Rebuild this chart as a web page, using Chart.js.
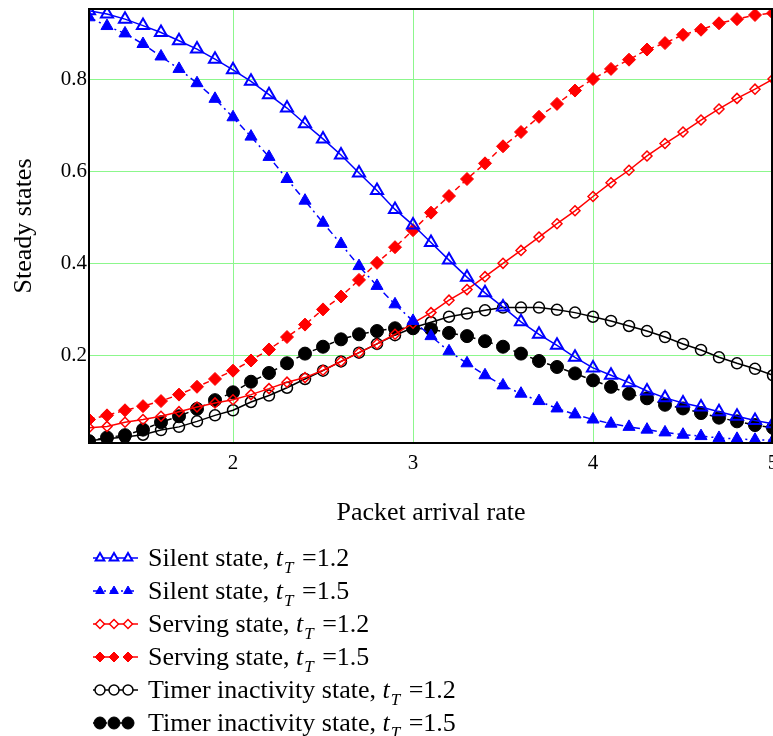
<!DOCTYPE html>
<html><head><meta charset="utf-8">
<script src="https://cdn.jsdelivr.net/npm/chart.js@4/dist/chart.umd.min.js"></script>
<style>html,body{margin:0;padding:0;background:#fff;overflow:hidden}#wrap{width:773px;height:736px;position:relative;overflow:hidden}canvas{display:block}</style>
</head><body><div id="wrap"><canvas id="c" width="782" height="736"></canvas></div>
<script>
const xValues = [1.2,1.3,1.4,1.5,1.6,1.7,1.8,1.9,2.0,2.1,2.2,2.3,2.4,2.5,2.6,2.7,2.8,2.9,3.0,3.1,3.2,3.3,3.4,3.5,3.6,3.7,3.8,3.9,4.0,4.1,4.2,4.3,4.4,4.5,4.6,4.7,4.8,4.9,5.0];
const silent12 = [0.948,0.941,0.930,0.916,0.901,0.883,0.865,0.843,0.820,0.795,0.766,0.737,0.703,0.670,0.635,0.596,0.558,0.517,0.483,0.445,0.407,0.370,0.336,0.305,0.273,0.246,0.222,0.196,0.173,0.157,0.141,0.123,0.108,0.097,0.088,0.078,0.068,0.059,0.052];
const silent15 = [0.934,0.915,0.899,0.876,0.849,0.822,0.791,0.757,0.717,0.675,0.631,0.583,0.536,0.488,0.442,0.394,0.351,0.311,0.275,0.242,0.209,0.183,0.157,0.135,0.117,0.101,0.085,0.072,0.061,0.052,0.045,0.039,0.033,0.028,0.025,0.021,0.019,0.017,0.016];
const serving12 = [0.043,0.046,0.055,0.061,0.068,0.078,0.088,0.097,0.104,0.115,0.128,0.142,0.152,0.168,0.187,0.206,0.225,0.246,0.270,0.293,0.320,0.343,0.371,0.400,0.428,0.457,0.486,0.514,0.545,0.575,0.602,0.633,0.660,0.685,0.711,0.735,0.758,0.778,0.800];
const serving15 = [0.061,0.070,0.081,0.090,0.101,0.115,0.132,0.149,0.167,0.189,0.213,0.240,0.267,0.300,0.328,0.364,0.401,0.435,0.472,0.510,0.546,0.583,0.617,0.654,0.685,0.718,0.746,0.775,0.800,0.822,0.842,0.864,0.878,0.896,0.907,0.921,0.930,0.939,0.943];
const timer12 = [0.015,0.019,0.023,0.028,0.038,0.045,0.057,0.070,0.081,0.099,0.113,0.130,0.149,0.167,0.187,0.206,0.225,0.244,0.260,0.272,0.284,0.291,0.298,0.304,0.304,0.304,0.299,0.293,0.284,0.275,0.264,0.253,0.240,0.225,0.212,0.196,0.183,0.171,0.157];
const timer15 = [0.014,0.022,0.027,0.039,0.055,0.068,0.084,0.103,0.120,0.143,0.162,0.183,0.204,0.219,0.235,0.246,0.253,0.259,0.259,0.257,0.249,0.242,0.231,0.219,0.204,0.188,0.175,0.161,0.146,0.132,0.117,0.107,0.093,0.085,0.075,0.065,0.057,0.049,0.043];
const xTicks = [2,3,4,5];
const yTicks = [0.2,0.4,0.6,0.8];
const xTitle = 'Packet arrival rate';
const yTitle = 'Steady states';
const legendNames = ['Silent state, ','Silent state, ','Serving state, ','Serving state, ','Timer inactivity state, ','Timer inactivity state, '];
const legendVals = ['1.2','1.5','1.2','1.5','1.2','1.5'];

const pts = arr => arr.map((v,i)=>({x:xValues[i], y:v}));
const BLUE='#0000ff', RED='#ff0000', BLACK='#000000';
const datasets = [
  {data:pts(silent12), borderColor:BLUE, backgroundColor:'#ffffff', borderWidth:1.5, borderDash:[], pointStyle:'triangle', pointRadius:7, pointBorderWidth:2, pointBackgroundColor:'rgba(255,255,255,0)', pointBorderColor:BLUE, lgR:5, lgFill:'#ffffff'},
  {data:pts(silent15), borderColor:BLUE, backgroundColor:BLUE, borderWidth:1.5, borderDash:[7,4,2,4], pointStyle:'triangle', pointRadius:7, pointBorderWidth:1, pointBackgroundColor:BLUE, pointBorderColor:BLUE, lgR:5, lgFill:BLUE},
  {data:pts(serving12), borderColor:RED, backgroundColor:'#ffffff', borderWidth:1.5, borderDash:[], pointStyle:'rectRot', pointRadius:5, pointBorderWidth:1.5, pointBackgroundColor:'rgba(255,255,255,0)', pointBorderColor:RED, lgR:4.5, lgFill:'#ffffff'},
  {data:pts(serving15), borderColor:RED, backgroundColor:RED, borderWidth:1.5, borderDash:[6,4], pointStyle:'rectRot', pointRadius:6.5, pointBorderWidth:1, pointBackgroundColor:RED, pointBorderColor:RED, lgR:5, lgFill:RED},
  {data:pts(timer12), borderColor:BLACK, backgroundColor:'#ffffff', borderWidth:1.5, borderDash:[], pointStyle:'circle', pointRadius:5.5, pointBorderWidth:1.5, pointBackgroundColor:'rgba(255,255,255,0)', pointBorderColor:BLACK, lgR:5, lgFill:'#ffffff'},
  {data:pts(timer15), borderColor:BLACK, backgroundColor:BLACK, borderWidth:1.5, borderDash:[5,4], pointStyle:'circle', pointRadius:6.5, pointBorderWidth:1, pointBackgroundColor:BLACK, pointBorderColor:BLACK, lgR:6, lgFill:BLACK}
].map(d=>Object.assign({clip:0, tension:0, fill:false}, d));

const SERIF = "'Liberation Serif','Times New Roman',serif";
const GRID = 'rgb(140,247,140)';

const framePlugin = {
  id:'frame',
  afterDatasetsDraw(chart){
    const {ctx, chartArea:a} = chart;
    ctx.save();
    ctx.strokeStyle='#000'; ctx.lineWidth=2;
    ctx.beginPath();
    ctx.moveTo(a.left, a.top); ctx.lineTo(a.right-1, a.top); ctx.lineTo(a.right-1, a.bottom);
    ctx.lineTo(a.left, a.bottom); ctx.closePath();
    ctx.stroke();
    ctx.restore();
  }
};

const legendPlugin = {
  id:'customLegend',
  afterDraw(chart){
    const ctx = chart.ctx;
    const rowY = [558,591,624,657,690,723];
    ctx.save();
    chart.data.datasets.forEach((ds,i)=>{
      const y = rowY[i];
      ctx.strokeStyle = ds.borderColor; ctx.lineWidth = 1.5;
      ctx.setLineDash(ds.borderDash);
      ctx.beginPath(); ctx.moveTo(93,y); ctx.lineTo(138,y); ctx.stroke();
      ctx.setLineDash([]);
      [100,114,128].forEach(px=>{
        ctx.fillStyle = ds.lgFill;
        ctx.strokeStyle = ds.pointBorderColor;
        ctx.lineWidth = ds.pointBorderWidth;
        Chart.helpers.drawPoint(ctx, {pointStyle:ds.pointStyle, radius:ds.lgR, rotation:0, borderWidth:ds.pointBorderWidth}, px, y);
      });
      ctx.fillStyle='#000';
      ctx.textBaseline='alphabetic';
      let x = 148; const by = y + 8;
      ctx.font = "26px " + SERIF;
      ctx.fillText(legendNames[i], x, by); x += ctx.measureText(legendNames[i]).width;
      ctx.font = "italic 26px " + SERIF;
      ctx.fillText('t', x, by); x += ctx.measureText('t').width + 1;
      ctx.font = "italic 17px " + SERIF;
      ctx.fillText('T', x, by+7); x += ctx.measureText('T').width + 2;
      ctx.font = "26px " + SERIF;
      const rest = ' =' + legendVals[i];
      ctx.fillText(rest, x, by);
    });
    ctx.restore();
  }
};

new Chart(document.getElementById('c'), {
  type:'line',
  data:{datasets},
  options:{
    responsive:false, animation:false, devicePixelRatio:1,
    layout:{padding:{top:9,left:0,right:0,bottom:198}},
    plugins:{legend:{display:false}, tooltip:{enabled:false}},
    scales:{
      x:{type:'linear', min:1.2, max:5,
        afterBuildTicks:s=>{ s.ticks = xTicks.map(v=>({value:v})); },
        afterFit:s=>{ s.height=95; s.paddingLeft=0; s.paddingRight=0; },
        grid:{color:GRID, lineWidth:1, drawTicks:false},
        border:{display:false},
        ticks:{color:'#000', font:{family:SERIF, size:21}, padding:8, maxRotation:0, autoSkip:false, callback:v=>String(v)},
        title:{display:true, text:xTitle, color:'#000', font:{family:SERIF, size:26}, padding:{top:0,bottom:9}}
      },
      y:{type:'linear', min:0.01, max:0.952,
        afterBuildTicks:s=>{ s.ticks = yTicks.map(v=>({value:v})); },
        afterFit:s=>{ s.width=89; s.paddingTop=0; s.paddingBottom=0; },
        grid:{color:GRID, lineWidth:1, drawTicks:false},
        border:{display:false},
        ticks:{color:'#000', font:{family:SERIF, size:21}, padding:2, autoSkip:false, callback:v=>Number(v).toFixed(1)},
        title:{display:true, text:yTitle, color:'#000', font:{family:SERIF, size:26}, padding:{top:9,bottom:0}}
      }
    }
  },
  plugins:[framePlugin, legendPlugin]
});
</script>
</body></html>
